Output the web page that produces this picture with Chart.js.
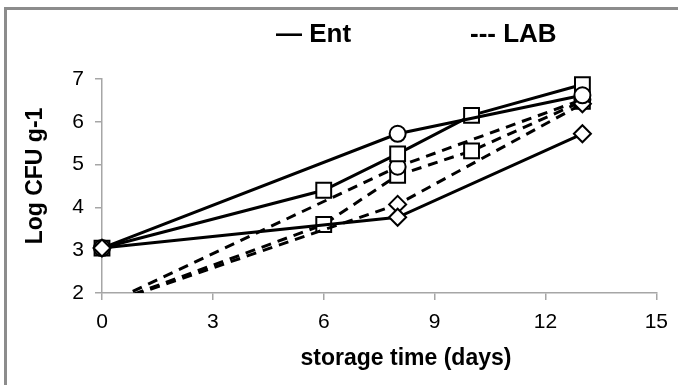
<!DOCTYPE html>
<html>
<head>
<meta charset="utf-8">
<script src="https://cdn.jsdelivr.net/npm/chart.js@4/dist/chart.umd.min.js"></script>
<style>
  body { margin: 0; background: #fff; }
  #frame { position: absolute; left: 4px; top: 7px; width: 700px; height: 400px;
           border-left: 3px solid #8c8c8c; border-top: 3px solid #8c8c8c; }
  #wrap { position: absolute; left: 0; top: 0; width: 678px; height: 385px; }
</style>
</head>
<body>
<div id="frame"></div>
<div id="wrap"><canvas id="chart" width="678" height="385"></canvas></div>
<script>
// storage days sampled
const fullDays = [0, 6, 8, 10, 13];
const shortDays = [0, 8, 13];

// Enterobacteria (solid lines)
const entSquare = [3.05, 4.4, 5.25, 6.15, 6.87];
const entCircle = [3.05, 5.72, 6.62];
const entDiamond = [3.05, 3.77, 5.72];

// LAB (dashed lines)
const labSquare = [1.7, 3.6, 4.75, 5.32, 6.48];
const labCircle = [1.7, 4.95, 6.52];
const labDiamond = [1.7, 4.07, 6.42];

const xTicks = [0, 3, 6, 9, 12, 15];
const yTicks = [2, 3, 4, 5, 6, 7];

const font = "'Liberation Sans', Arial, sans-serif";

function pts(days, vals) {
    return days.map((d, i) => ({ x: d, y: vals[i] }));
}

function series(label, days, vals, shape, dashed) {
    let r = 8;
    if (shape === 'rect') r = 10.5;
    if (shape === 'rectRot') r = 8.5;
    return {
        label: label,
        data: pts(days, vals),
        borderColor: '#000',
        borderWidth: 3,
        borderDash: dashed ? [10, 7] : [],
        pointStyle: shape,
        pointRadius: r,
        pointBorderWidth: 2,
        pointBorderColor: '#000',
        pointBackgroundColor: '#fff',
        tension: 0,
        clip: { left: 20, top: 20, right: 20, bottom: 0 }
    };
}

// text labels drawn on the canvas
const textPlugin = {
    id: 'texts',
    afterDraw(chart) {
        const ctx = chart.ctx;
        ctx.save();
        ctx.fillStyle = '#000';
        ctx.textBaseline = 'alphabetic';
        ctx.font = 'bold 26px ' + font;
        ctx.textAlign = 'left';
        ctx.fillText('\u2014 Ent', 276, 42);
        ctx.fillText('--- LAB', 470, 42);

        ctx.font = 'bold 23px ' + font;
        ctx.textAlign = 'center';
        ctx.fillText('storage time (days)', 406, 365);

        ctx.translate(42, 176);
        ctx.rotate(-Math.PI / 2);
        ctx.fillText('Log CFU g-1', 0, 0);
        ctx.restore();
    }
};

new Chart(document.getElementById('chart'), {
    type: 'line',
    data: {
        datasets: [
            series('Ent diamond', shortDays, entDiamond, 'rectRot', false),
            series('Ent circle', shortDays, entCircle, 'circle', false),
            series('Ent square', fullDays, entSquare, 'rect', false),
            series('LAB diamond', shortDays, labDiamond, 'rectRot', true),
            series('LAB circle', shortDays, labCircle, 'circle', true),
            series('LAB square', fullDays, labSquare, 'rect', true)
        ]
    },
    options: {
        responsive: false,
        animation: false,
        layout: { padding: { left: 0, top: 79, right: 21, bottom: 0 } },
        plugins: { legend: { display: false }, tooltip: { enabled: false } },
        scales: {
            x: {
                type: 'linear',
                min: xTicks[0],
                max: xTicks[xTicks.length - 1],
                afterBuildTicks: s => { s.ticks = xTicks.map(v => ({ value: v })); },
                afterFit: s => { s.height = 92; },
                grid: { drawOnChartArea: false, drawTicks: true, tickLength: 7, color: '#a6a6a6', lineWidth: 1.5 },
                border: { color: '#a6a6a6', width: 1.5 },
                ticks: { color: '#000', padding: 10, font: { family: font, size: 21 }, maxRotation: 0 }
            },
            y: {
                min: yTicks[0],
                max: yTicks[yTicks.length - 1],
                afterBuildTicks: s => { s.ticks = yTicks.map(v => ({ value: v })); },
                afterFit: s => { s.width = 102; },
                grid: { drawOnChartArea: false, drawTicks: true, tickLength: 7, color: '#a6a6a6', lineWidth: 1.5 },
                border: { color: '#a6a6a6', width: 1.5 },
                ticks: { color: '#000', padding: 11, font: { family: font, size: 21 } }
            }
        }
    },
    plugins: [textPlugin]
});
</script>
</body>
</html>
